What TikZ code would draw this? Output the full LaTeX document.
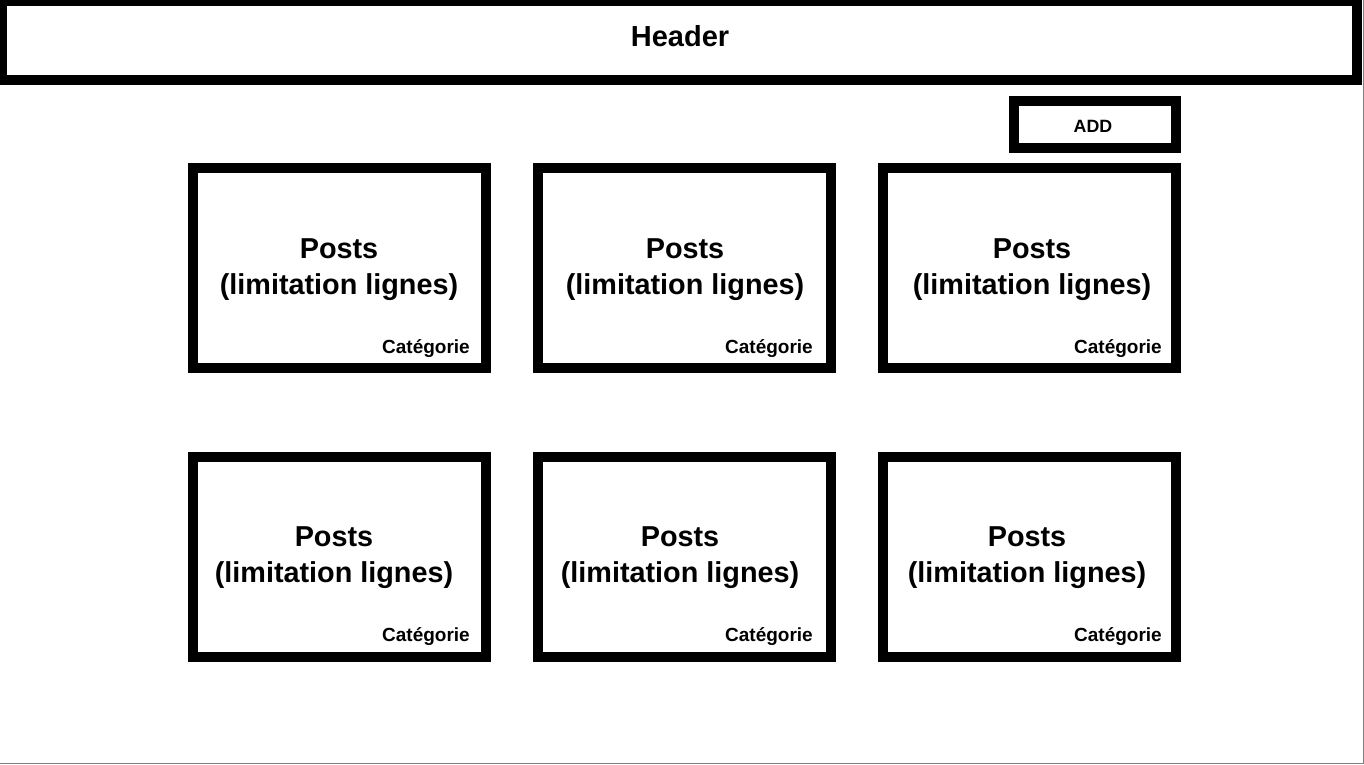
\documentclass[tikz,border=0pt]{standalone}
\usepackage{fontspec}
\setmainfont{Liberation Sans}
\begin{document}
\begin{tikzpicture}[x=1pt,y=-1pt,
  frame/.style={draw=black, fill=white, inner sep=0pt},
  cardbox/.style={frame, line width=10pt, minimum width=293pt, minimum height=200pt},
  posttxt/.style={align=center, inner sep=0pt, font=\fontsize{28.8}{36}\selectfont\bfseries},
  cattxt/.style={anchor=base east, inner sep=0pt, font=\fontsize{19}{22}\selectfont\bfseries},
  hdrtxt/.style={inner sep=0pt, font=\fontsize{29}{34}\selectfont\bfseries},
  addtxt/.style={inner sep=0pt, font=\fontsize{17.8}{21}\selectfont\bfseries}]
\useasboundingbox (0,0) rectangle (1364,764);
\fill[white] (0,0) rectangle (1364,764);
\draw[gray, line width=1pt] (1363.5,0) -- (1363.5,763.5) -- (0,763.5);
% header
\node[frame, line width=9.5pt, minimum width=1354.5pt, minimum height=78.5pt] (hdr) at (679.75,40.75) {};
\node[hdrtxt] (hdrt) at (680,36) {Header};
% add button
\node[frame, line width=10pt, minimum width=162pt, minimum height=47pt] (add) at (1095,124.5) {};
\node[addtxt] (addt) at (1093,126) {ADD};
% cards row 1
\node[cardbox] (c1) at (339.5,268) {};
\node[cardbox] (c2) at (684.5,268) {};
\node[cardbox] (c3) at (1029.5,268) {};
% cards row 2
\node[cardbox] (c4) at (339.5,557) {};
\node[cardbox] (c5) at (684.5,557) {};
\node[cardbox] (c6) at (1029.5,557) {};
% texts
\node[posttxt] (t1) at (339,270) {Posts\\(limitation lignes)};
\node[posttxt] (t2) at (685,270) {Posts\\(limitation lignes)};
\node[posttxt] (t3) at (1032,270) {Posts\\(limitation lignes)};
\node[posttxt] (t4) at (334,558) {Posts\\(limitation lignes)};
\node[posttxt] (t5) at (680,558) {Posts\\(limitation lignes)};
\node[posttxt] (t6) at (1027,558) {Posts\\(limitation lignes)};
\node[cattxt] (k1) at (470,353) {Catégorie};
\node[cattxt] (k2) at (813,353) {Catégorie};
\node[cattxt] (k3) at (1162,353) {Catégorie};
\node[cattxt] (k4) at (470,641) {Catégorie};
\node[cattxt] (k5) at (813,641) {Catégorie};
\node[cattxt] (k6) at (1162,641) {Catégorie};
\end{tikzpicture}
\end{document}
